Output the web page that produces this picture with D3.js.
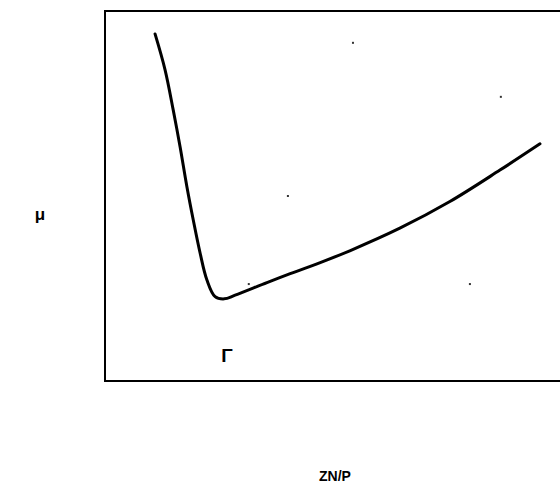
<!DOCTYPE html>
<html><head><meta charset="utf-8">
<script src="https://cdn.jsdelivr.net/npm/d3@7"></script>
<style>body{margin:0;background:#fff}svg{display:block}</style>
</head><body>
<script>
// Curve values (x: ZN/P, y: μ), in relative units 0-100
const zn = [11.0, 13.2, 15.0, 16.5, 18.0, 19.4, 20.9, 22.4, 24.2, 26.2, 28.6, 35.6, 40.7, 47.3, 53.8, 64.8, 75.8, 86.8, 95.6];
const mu = [93.8, 84.1, 73.2, 63.3, 52.5, 43.5, 34.6, 27.3, 22.8, 22.2, 23.2, 26.6, 29.0, 32.0, 35.2, 41.3, 48.5, 57.0, 64.1];
// small specks in the scanned image
const speckX = [54.5, 87.0, 40.2, 80.2, 31.6];
const speckY = [91.4, 76.8, 50.0, 26.2, 26.2];
const labels = {x: "ZN/P", y: "μ", min: "Γ"};

const W = 560, H = 483;
const box = {l: 105, t: 11, r: 562, b: 381};
const svg = d3.select("body").append("svg").attr("width", W).attr("height", H);
const x = d3.scaleLinear().domain([0, 100]).range([box.l, box.l + 455]);
const y = d3.scaleLinear().domain([0, 100]).range([box.b, box.t + 0]);

svg.append("rect").attr("x", box.l).attr("y", box.t)
  .attr("width", box.r - box.l).attr("height", box.b - box.t)
  .attr("fill", "none").attr("stroke", "#000").attr("stroke-width", 2);

const pts = zn.map((v, i) => [v, mu[i]]);
svg.append("path").datum(pts)
  .attr("d", d3.line().x(d => x(d[0])).y(d => y(d[1])).curve(d3.curveCatmullRom.alpha(0.5)))
  .attr("fill", "none").attr("stroke", "#000").attr("stroke-width", 3)
  .attr("stroke-linecap", "round").attr("stroke-linejoin", "round");

svg.selectAll("rect.speck").data(speckX).join("rect").attr("class", "speck")
  .attr("x", (d, i) => x(d) - 1).attr("y", (d, i) => y(speckY[i]) - 1)
  .attr("width", 2).attr("height", 2).attr("fill", "#333");

const f = "Liberation Sans, Arial, sans-serif";
svg.append("text").attr("x", 40).attr("y", 220).attr("text-anchor", "middle")
  .attr("font-family", f).attr("font-weight", "bold").attr("font-size", 17).text(labels.y);
svg.append("text").attr("x", 227).attr("y", 362).attr("text-anchor", "middle")
  .attr("font-family", f).attr("font-weight", "bold").attr("font-size", 19).text(labels.min);
svg.append("text").attr("x", 335).attr("y", 481).attr("text-anchor", "middle")
  .attr("font-family", f).attr("font-weight", "bold").attr("font-size", 14).text(labels.x);
</script>
</body></html>
